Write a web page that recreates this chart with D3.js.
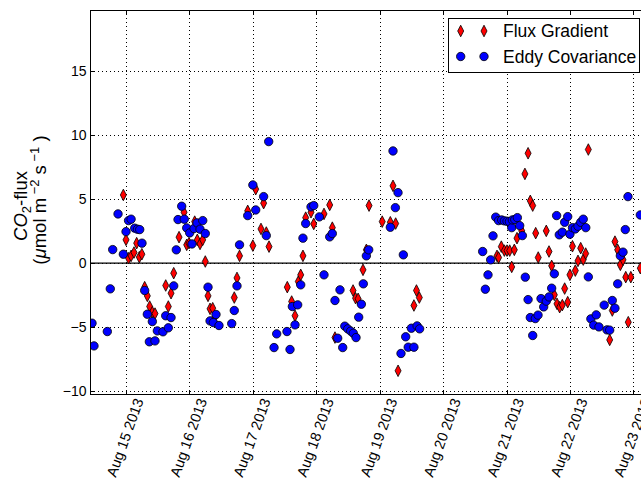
<!DOCTYPE html>
<html lang="en">
<head>
    <meta charset="UTF-8">
    <title>CO2 flux</title>
    <script src="https://d3js.org/d3.v7.min.js"></script>
    <style>
        body { margin: 0; background: #fff; }
        text { font-family: "Liberation Sans", Arial, sans-serif; fill: #000; }
    </style>
</head>
<body>
<script>
// flux gradient (red diamonds): day of August 2013, CO2 flux
var fgDay = [14.958, 15.0, 15.04, 15.08, 15.126, 15.168, 15.21, 15.25, 15.294, 15.336, 15.373, 15.415, 15.457,
    15.626, 15.667, 15.71, 15.752, 15.836, 15.915, 15.957, 15.993, 16.083, 16.124, 16.167, 16.209, 16.25, 16.293,
    16.325, 16.367, 16.39, 16.707, 16.75, 16.79, 16.919, 17.0, 17.045, 17.128, 17.17, 17.212, 17.255, 17.543,
    17.612, 17.665, 17.717, 17.755, 17.79, 17.833, 17.917, 17.96, 18.122, 18.212, 18.253, 18.295, 18.58, 18.62,
    18.66, 18.737, 18.79, 18.832, 19.04, 19.168, 19.21, 19.252, 19.29, 19.54, 19.58, 19.625, 20.85, 20.875,
    20.918, 20.966, 21.008, 21.05, 21.082, 21.123, 21.165, 21.24, 21.29, 21.34, 21.375, 21.413, 21.46, 21.5,
    21.627, 21.67, 21.712, 21.754, 21.796, 21.838, 21.88, 21.917, 21.965, 22.0, 22.04, 22.085, 22.127, 22.17,
    22.21, 22.248, 22.29, 22.627, 22.668, 22.71, 22.753, 22.795, 22.837, 22.88, 22.92, 22.96, 23.11];
var fgFlux = [5.32, 1.82, 0.39, 0.57, 0.83, 1.56, 0.47, 0.70, -1.87, -2.55, -3.38, -3.82, -3.93,
    -1.74, -3.38, -2.34, -0.78, 2.03, 3.97, 1.43, 1.56, 3.24, 1.82, 1.50, 1.82, 0.13, -2.55,
    -3.56, -3.51, -4.3, -2.68, -1.15, 0.57, 4.08, 1.37, 5.77, 2.67, 4.68, 2.39, 1.29, -1.87,
    -2.99, -4.10, -1.43, -0.91, 0.57, 3.55, 3.97, 3.06, 3.84, 4.54, 2.77, -5.80, -2.13, -2.73,
    -2.78, -0.52, 1.04, 4.49, 3.24, 3.19, 6.03, 3.09, -8.39, -3.30, -2.13, -2.68, 0.57, 0.44,
    1.29, 0.98, 0.98, 0.98, -0.29, 1.04, 1.95, 2.52, 6.96, 8.57, 4.86, 4.49, 2.34, 0.44,
    2.52, 0.91, -0.21, -2.47, -3.17, -3.43, -3.27, -1.98, -3.04, -0.91, 1.32, -0.58, 0.18, 1.17,
    0.28, 0.75, 8.86, -5.98, -3.69, 1.68, 1.04, -0.13, 0.26, -1.09, -4.60, -1.09, -0.39];

// eddy covariance (blue circles)
var ecDay = [14.464, 14.495, 14.705, 14.752, 14.79, 14.874, 14.958, 15.0, 15.04, 15.08, 15.137, 15.18, 15.216,
    15.252, 15.294, 15.336, 15.368, 15.415, 15.457, 15.494, 15.583, 15.626, 15.667, 15.71, 15.752, 15.793, 15.82,
    15.878, 15.919, 15.957, 16.004, 16.04, 16.072, 16.12, 16.167, 16.21, 16.25, 16.293, 16.325, 16.377, 16.419,
    16.466, 16.667, 16.707, 16.75, 16.79, 16.919, 17.0, 17.045, 17.17, 17.212, 17.25, 17.334, 17.376, 17.538,
    17.586, 17.623, 17.665, 17.707, 17.755, 17.79, 17.833, 17.917, 17.96, 18.048, 18.122, 18.212, 18.253, 18.295,
    18.338, 18.374, 18.417, 18.45, 18.496, 18.543, 18.584, 18.627, 18.669, 18.711, 18.742, 18.79, 18.827, 19.168,
    19.21, 19.247, 19.289, 19.336, 19.373, 19.41, 19.45, 19.5, 19.54, 19.59, 19.63, 20.624, 20.666, 20.708,
    20.75, 20.787, 20.83, 20.875, 20.924, 20.966, 21.008, 21.045, 21.082, 21.092, 21.13, 21.171, 21.208, 21.25,
    21.296, 21.34, 21.375, 21.413, 21.454, 21.497, 21.544, 21.586, 21.627, 21.67, 21.712, 21.754, 21.79, 21.832,
    21.88, 21.917, 21.965, 22.0, 22.04, 22.085, 22.127, 22.17, 22.21, 22.25, 22.29, 22.33, 22.375, 22.415,
    22.458, 22.54, 22.584, 22.627, 22.668, 22.71, 22.753, 22.795, 22.837, 22.873, 22.915, 23.11];
var ecFlux = [-4.68, -6.45, -5.33, -2.00, 1.06, 3.84, 0.70, 2.46, 3.32, 3.43, 2.73, 2.65, 2.62,
    1.56, -2.13, -3.98, -6.13, -4.55, -6.06, -5.28, -5.35, -4.10, -5.04, -4.24, -1.77, 1.04, 3.40,
    4.44, 3.43, 2.75, 2.36, 1.50, 2.70, 3.14, 2.65, 3.32, 2.31, -1.87, -4.50, -4.63, -4.00,
    -4.86, -4.71, -3.69, -1.77, 1.43, 3.71, 6.10, 4.15, 5.19, 2.15, 9.48, -6.58, -5.51, -5.33,
    -6.73, -3.38, -4.81, -3.25, -1.69, 1.95, 3.09, 4.39, 4.49, 3.61, -0.91, 2.05, 2.31, -2.91,
    -5.85, -2.08, -6.58, -4.91, -5.12, -5.30, -5.46, -5.80, -4.21, -3.20, -1.61, 0.57, 1.04, 2.80,
    8.75, 4.33, 5.50, -7.04, 0.65, -5.74, -6.55, -5.07, -6.55, -4.89, -5.12, 0.91, -2.03, -0.91,
    0.26, 2.13, 3.59, 3.32, 3.37, 3.30, 3.27, 3.24, 2.77, 3.37, 3.40, 3.55, 2.93, 2.15,
    -1.09, -2.84, -4.24, -5.64, -4.32, -4.05, -2.76, -3.41, -2.96, -2.63, -1.95, -0.83, 3.71, 2.21,
    2.42, 3.19, 3.63, 2.26, 2.77, 2.67, 2.88, 3.19, 3.43, 2.77, -1.07, -4.34, -4.83, -4.03,
    -4.97, -3.27, -5.20, -5.22, -2.91, -3.51, -1.61, 0.57, 0.86, 2.62, 5.19, 3.76];

var xTickDays = [15, 16, 17, 18, 19, 20, 21, 22, 23];
var yTicks = [-10, -5, 0, 5, 10, 15];
var seriesNames = ["Flux Gradient", "Eddy Covariance"];

function toDate(d) { return new Date(Date.UTC(2013, 7, 1) + (d - 1) * 864e5); }

var width = 641, height = 481;
var plotL = 90, plotR = 648, plotT = 10, plotB = 394;

var svg = d3.select("body").append("svg")
    .attr("width", width)
    .attr("height", height);

var x = d3.scaleUtc()
    .domain([toDate(14.432), toDate(23.231)])
    .range([plotL, plotR]);
var y = d3.scaleLinear()
    .domain([-10.2, 19.74])
    .range([plotB, plotT]);

svg.append("clipPath").attr("id", "plot")
    .append("rect").attr("x", plotL).attr("y", plotT)
    .attr("width", plotR - plotL).attr("height", plotB - plotT);

// grid
var grid = svg.append("g").attr("stroke", "#000").attr("stroke-width", 1)
    .attr("stroke-dasharray", "1,3");
grid.selectAll(".gx").data(xTickDays).enter().append("line")
    .attr("x1", function(d) { return Math.round(x(toDate(d))) + 0.5; })
    .attr("x2", function(d) { return Math.round(x(toDate(d))) + 0.5; })
    .attr("y1", plotT).attr("y2", plotB);
grid.selectAll(".gy").data(yTicks).enter().append("line")
    .attr("y1", function(d) { return Math.round(y(d)) + 0.5; })
    .attr("y2", function(d) { return Math.round(y(d)) + 0.5; })
    .attr("x1", plotL).attr("x2", plotR);

// zero line
svg.append("line")
    .attr("x1", plotL).attr("x2", plotR)
    .attr("y1", y(0)).attr("y2", y(0))
    .attr("stroke", "#000").attr("stroke-width", 1.3);

// points: flux gradient first, eddy covariance on top
var diamond = "M0,-5.8L3,0L0,5.8L-3,0Z";
var pts = svg.append("g").attr("clip-path", "url(#plot)");
pts.selectAll(".fg").data(d3.range(fgDay.length)).enter().append("path")
    .attr("d", diamond)
    .attr("transform", function(i) { return "translate(" + x(toDate(fgDay[i])) + "," + y(fgFlux[i]) + ")"; })
    .attr("fill", "#ff0000").attr("stroke", "#000").attr("stroke-width", 0.8);
pts.selectAll(".ec").data(d3.range(ecDay.length)).enter().append("circle")
    .attr("cx", function(i) { return x(toDate(ecDay[i])); })
    .attr("cy", function(i) { return y(ecFlux[i]); })
    .attr("r", 4.2)
    .attr("fill", "#0000ff").attr("stroke", "#000").attr("stroke-width", 0.8);

// frame and inward ticks
svg.append("rect")
    .attr("x", plotL + 0.5).attr("y", plotT + 0.5)
    .attr("width", plotR - plotL).attr("height", plotB - plotT)
    .attr("fill", "none").attr("stroke", "#000").attr("stroke-width", 1);

var ticks = svg.append("g").attr("stroke", "#000").attr("stroke-width", 1);
xTickDays.forEach(function(d) {
    var px = Math.round(x(toDate(d))) + 0.5;
    ticks.append("line").attr("x1", px).attr("x2", px).attr("y1", plotB).attr("y2", plotB - 4);
    ticks.append("line").attr("x1", px).attr("x2", px).attr("y1", plotT).attr("y2", plotT + 4);
});
yTicks.forEach(function(v) {
    var py = Math.round(y(v)) + 0.5;
    ticks.append("line").attr("x1", plotL).attr("x2", plotL + 4).attr("y1", py).attr("y2", py);
});

// y tick labels
svg.selectAll(".yl").data(yTicks).enter().append("text")
    .attr("x", 86.5).attr("y", function(d) { return y(d); })
    .attr("dy", "0.35em")
    .attr("text-anchor", "end")
    .style("font-size", "14px")
    .text(function(d) { return d < 0 ? "\u2212" + Math.abs(d) : d; });

// x tick labels, rotated 70 degrees, box centred under tick
var fmt = d3.utcFormat("%b %d %Y");
var ang = 70 * Math.PI / 180;
svg.selectAll(".xl").data(xTickDays).enter().append("text")
    .style("font-size", "14.5px")
    .attr("text-anchor", "middle")
    .attr("dy", "0.35em")
    .text(function(d) { return fmt(toDate(d)); })
    .each(function(d) {
        var L = this.getComputedTextLength();
        var h = L * Math.sin(ang) + 11 * Math.cos(ang);
        var cx = x(toDate(d)) - 1, cy = 397 + h / 2;
        d3.select(this).attr("transform", "translate(" + cx + "," + cy + ") rotate(-70)");
    });

// y axis label
var yl = svg.append("text")
    .attr("transform", "translate(27,206) rotate(-90)")
    .attr("text-anchor", "middle")
    .style("font-size", "18.5px");
yl.append("tspan").style("font-style", "italic").text("CO");
yl.append("tspan").attr("dy", 4).style("font-size", "13px").text("2");
yl.append("tspan").attr("dy", -4).text("-flux");

var yl2 = svg.append("text")
    .attr("transform", "translate(46,200) rotate(-90)")
    .attr("text-anchor", "middle")
    .style("font-size", "18.5px");
yl2.append("tspan").text("(");
yl2.append("tspan").style("font-style", "italic").text("\u03bc");
yl2.append("tspan").text("mol m");
yl2.append("tspan").attr("dy", -7).style("font-size", "13px").text(" \u22122");
yl2.append("tspan").attr("dy", 7).text("  s");
yl2.append("tspan").attr("dy", -7).style("font-size", "13px").text(" \u22121");
yl2.append("tspan").attr("dy", 7).text("  )");

// legend
var lg = svg.append("g");
lg.append("rect")
    .attr("x", 448.5).attr("y", 18.5).attr("width", 191).attr("height", 54)
    .attr("fill", "#fff").attr("stroke", "#000").attr("stroke-width", 1);
var rowY = [31, 56.5];
seriesNames.forEach(function(name, k) {
    [460.7, 484].forEach(function(mx) {
        if (k === 0) {
            lg.append("path").attr("d", diamond)
                .attr("transform", "translate(" + mx + "," + rowY[k] + ")")
                .attr("fill", "#ff0000").attr("stroke", "#000").attr("stroke-width", 0.8);
        } else {
            lg.append("circle").attr("cx", mx).attr("cy", rowY[k]).attr("r", 4.2)
                .attr("fill", "#0000ff").attr("stroke", "#000").attr("stroke-width", 0.8);
        }
    });
    lg.append("text").attr("x", 503).attr("y", rowY[k] + 6.2)
        .style("font-size", "17.5px").text(name);
});
</script>
</body>
</html>
